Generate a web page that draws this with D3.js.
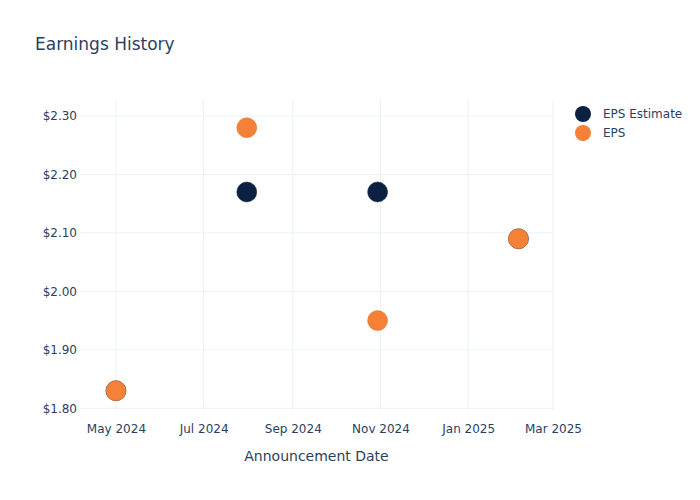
<!DOCTYPE html>
<html><head><meta charset="utf-8">
<script src="https://cdn.jsdelivr.net/npm/d3@7"></script>
<style>body{margin:0;background:#fff;} svg{display:block;font-family:"DejaVu Sans",sans-serif;}</style>
</head><body><svg id="c" width="700" height="500"></svg>
<script>
const dates = ["2024-05-01","2024-07-31","2024-10-30","2025-02-05"];
const epsEstimate = [1.83, 2.17, 2.17, 2.09];
const eps = [1.83, 2.28, 1.95, 2.09];
const yTicks = [1.80, 1.90, 2.00, 2.10, 2.20, 2.30];
const xTickDates = ["2024-05-01","2024-07-01","2024-09-01","2024-11-01","2025-01-01","2025-03-01"];
const seriesNames = ["EPS Estimate","EPS"];
const colors = ["#0c2142","#f58137"];

const parse = d3.utcParse("%Y-%m-%d");
const svg = d3.select("#c");
const L=80,R=553,T=100,B=410;
const x = d3.scaleUtc().domain([parse("2024-04-06"), parse("2025-03-01")]).range([L,R]);
const y = d3.scaleLinear().domain([1.797, 2.3274]).range([B,T]);
const txt="#2a3f5f", grid="#ebf0f8";

svg.append("text").attr("x",35).attr("y",50).attr("font-size",17).attr("fill",txt).text("Earnings History");

// grid
svg.append("g").selectAll("line").data(yTicks).join("line")
 .attr("x1",L).attr("x2",R).attr("y1",d=>y(d)).attr("y2",d=>y(d)).attr("stroke",grid).attr("stroke-width",1);
svg.append("g").selectAll("line").data(xTickDates).join("line")
 .attr("x1",d=>x(parse(d))).attr("x2",d=>x(parse(d))).attr("y1",T).attr("y2",B).attr("stroke",grid).attr("stroke-width",1);

// axes
const yAxis = d3.axisLeft(y).tickValues(yTicks).tickSize(0).tickPadding(3).tickFormat(d=>"$"+d.toFixed(2));
const gy = svg.append("g").attr("transform",`translate(${L},0)`).call(yAxis);
gy.select(".domain").remove();
gy.selectAll("text").attr("font-size",12).attr("fill",txt).attr("font-family","DejaVu Sans");
const xAxis = d3.axisBottom(x).tickValues(xTickDates.map(parse)).tickSize(0).tickPadding(14).tickFormat(d3.utcFormat("%b %Y"));
const gx = svg.append("g").attr("transform",`translate(0,${B})`).call(xAxis);
gx.select(".domain").remove();
gx.selectAll("text").attr("font-size",12).attr("fill",txt).attr("font-family","DejaVu Sans");

svg.append("text").attr("x",(L+R)/2).attr("y",461).attr("text-anchor","middle").attr("font-size",14).attr("fill",txt).text("Announcement Date");

// points
const series=[epsEstimate, eps];
series.forEach((vals,i)=>{
  svg.append("g").selectAll("circle").data(vals).join("circle")
   .attr("cx",(d,j)=>x(parse(dates[j]))).attr("cy",d=>y(d)).attr("r",10)
   .attr("fill",colors[i]).attr("stroke",i===1?"#e0752f":"#0a1c3a").attr("stroke-width",0.5);
});

// legend
seriesNames.forEach((n,i)=>{
  const yy=114+i*19;
  svg.append("circle").attr("cx",583).attr("cy",yy).attr("r",8).attr("fill",colors[i]);
  svg.append("text").attr("x",603).attr("y",yy+4).attr("font-size",12).attr("fill",txt).text(n);
});
</script></body></html>
